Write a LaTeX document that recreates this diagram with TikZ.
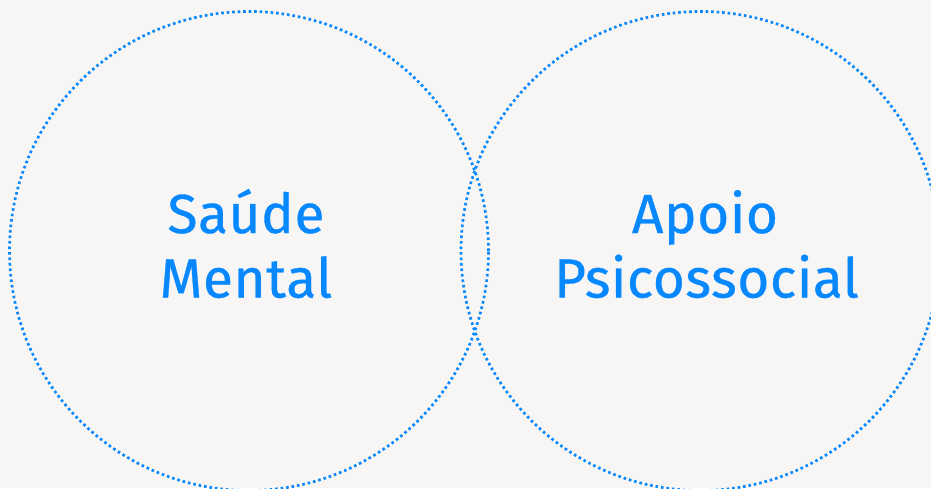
\documentclass[tikz,border=0pt]{standalone}
\usepackage{fontspec}
\setmainfont[FakeBold=0.6]{Fira Sans}
\definecolor{bg}{HTML}{F7F6F4}
\definecolor{blu}{HTML}{0888FF}
\begin{document}
\begin{tikzpicture}[x=1pt,y=-1pt,
  ring/.style={circle,draw=blu,line width=2.7pt,dash pattern=on 2.6pt off 2.9pt,minimum size=479pt,inner sep=0pt},
  lbl/.style={text=blu,font=\addfontfeatures{LetterSpace=1}\fontsize{55}{60}\selectfont,anchor=base,inner sep=0pt}]
\fill[bg] (0,0) rectangle (931,488);
\useasboundingbox (0,0) rectangle (931,488);
\clip (0,0) rectangle (931,488);
\node[ring] (L) at (249,251) {};
\node[ring] (R) at (700.5,251) {};
\node[lbl] (sa) at (246,233) {Saúde};
\node[lbl] (me) at (246,297.5) {Mental};
\node[lbl] (ap) at (705,233) {Apoio};
\node[lbl] (ps) at (706.5,297.5) {Psicossocial};
\end{tikzpicture}
\end{document}
